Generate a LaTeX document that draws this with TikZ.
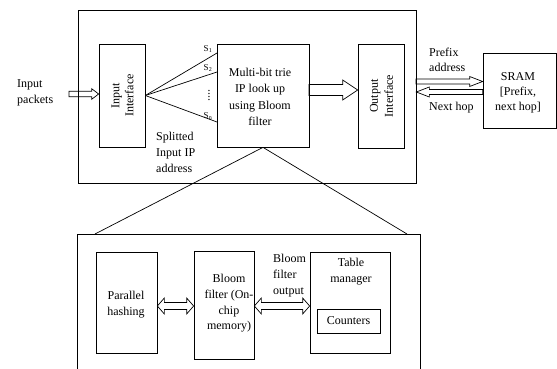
\documentclass[tikz,border=0pt]{standalone}
\usepackage{fontspec}
\setmainfont{Liberation Serif}
\usetikzlibrary{calc}
\newcommand\blkarrow[5]{\draw[arrowline] let \p1=(#1), \p2=(#2) in
  ({\x1},{\y1+#3}) -- ({\x2-(#5)},{\y1+#3}) -- ({\x2-(#5)},{\y1+#4}) -- ({\x2},{\y1})
  -- ({\x2-(#5)},{\y1-#4}) -- ({\x2-(#5)},{\y1-#3}) -- ({\x1},{\y1-#3}) -- cycle;}
\newcommand\dblarrow[5]{\draw[arrowline] let \p1=(#1), \p2=(#2) in
  ({\x1},{\y1}) -- ({\x1+#5},{\y1+#4}) -- ({\x1+#5},{\y1+#3}) -- ({\x2-#5},{\y1+#3})
  -- ({\x2-#5},{\y1+#4}) -- ({\x2},{\y1}) -- ({\x2-#5},{\y1-#4}) -- ({\x2-#5},{\y1-#3})
  -- ({\x1+#5},{\y1-#3}) -- ({\x1+#5},{\y1-#4}) -- cycle;}
\begin{document}
\begin{tikzpicture}[x=1pt,y=-1pt,
  box/.style={draw, line width=0.7pt, inner sep=0pt},
  txt/.style={font=\fontsize{12}{16}\selectfont, align=center, inner sep=0pt},
  ltxt/.style={font=\fontsize{12}{16}\selectfont, align=left, inner sep=0pt},
  rtxt/.style={font=\fontsize{12}{14}\selectfont, align=center, inner sep=0pt, rotate=90},
  stxt/.style={font=\fontsize{9}{10}\selectfont, inner sep=0pt},
  arrowline/.style={draw, line width=0.7pt, line join=miter},
  conn/.style={draw, line width=0.7pt}]
\useasboundingbox (0,0) rectangle (557,369);

% top block
\node[box, minimum width=338pt, minimum height=173pt] (topbox) at (247,96.5) {};
\node[box, minimum width=46pt, minimum height=103pt] (inif) at (122,95.5) {};
\node[rtxt] (iniftxt) at (122.5,95.5) {Input\\Interface};
\node[box, minimum width=92pt, minimum height=103pt, txt] (mbt) at (263,95.5) {};
\node[txt, font=\fontsize{12}{16.3}\selectfont] (mbttxt) at (260,97) {Multi-bit trie\\IP look up\\using Bloom\\filter};
\node[box, minimum width=46pt, minimum height=104pt] (outif) at (381,96) {};
\node[rtxt, font=\fontsize{12}{15}\selectfont] (outiftxt) at (381.5,96) {Output\\Interface};
\node[box, minimum width=73.5pt, minimum height=75pt] (sram) at (519.75,90.5) {};
\node[txt, font=\fontsize{12}{15}\selectfont] (sramtxt) at (518,93) {SRAM\\{[}Prefix,\\next hop{]}};

\node[ltxt, anchor=west] (inpk) at (17,93) {Input\\packets};
\node[ltxt, anchor=west] (split) at (156,152) {Splitted\\Input IP\\address};
\node[ltxt, anchor=west, font=\fontsize{12}{15}\selectfont] (pfx) at (429,59.5) {Prefix\\address};
\node[ltxt, anchor=west] (nhop) at (429,108) {Next hop};

% fan lines
\coordinate (s1) at (217,53);
\coordinate (s2) at (217,72);
\coordinate (sn) at (217,122);
\draw[conn] (inif.east) -- (s1);
\draw[conn] (inif.east) -- (s2);
\draw[conn] (inif.east) -- (sn);
\node[stxt] (l1) at (208,49) {S\textsubscript{1}};
\node[stxt] (l2) at (208,68) {S\textsubscript{2}};
\node[stxt] (ln) at (208,116) {S\textsubscript{n}};
\node[font=\fontsize{12}{12}\selectfont, inner sep=0pt, rotate=90] (ldots) at (209,95) {....};

% block arrows
\coordinate (ip) at (69,94);
\blkarrow{ip}{inif.west}{2.7pt}{5.3pt}{7pt}
\coordinate (ba) at (309,90);
\blkarrow{ba}{outif.west}{5.5pt}{10pt}{15pt}
\coordinate (pa) at (416,81.5);
\blkarrow{pa}{sram.west}{2.5pt}{5pt}{13pt}
\coordinate (nh) at (sram.west |- 0,92);
\blkarrow{nh}{topbox.east}{2.5pt}{5pt}{-13pt}

% zoom lines
\coordinate (zl) at (95,234);
\coordinate (zr) at (407,234);
\draw[conn] (mbt.south) -- (zl);
\draw[conn] (mbt.south) -- (zr);

% lower block
\draw[conn] (77,370) -- (77,234) -- (420,234) -- (420,370);
\node[box, minimum width=61pt, minimum height=101pt] (ph) at (126.5,302.5) {};
\node[txt] (phtxt) at (126,305) {Parallel\\hashing};
\node[box, minimum width=60pt, minimum height=108pt] (bf) at (224,305) {};
\node[txt, font=\fontsize{12}{15.7}\selectfont] (bftxt) at (229,303.5) {Bloom\\filter (On-\\chip\\memory)};
\node[box, minimum width=80pt, minimum height=101pt] (tm) at (350,302.5) {};
\node[txt] (tmtxt) at (351,272) {Table\\manager};
\node[box, minimum width=63pt, minimum height=24pt, txt] (cnt) at (348.5,321) {Counters};
\node[ltxt, anchor=west] (bfo) at (273,276) {Bloom\\filter\\output};

\coordinate (d1) at (ph.east |- 0,306);
\dblarrow{d1}{bf.west}{3.5pt}{8pt}{7pt}
\coordinate (d2) at (bf.east |- 0,306);
\dblarrow{d2}{tm.west}{3.5pt}{8pt}{7pt}
\end{tikzpicture}
\end{document}
